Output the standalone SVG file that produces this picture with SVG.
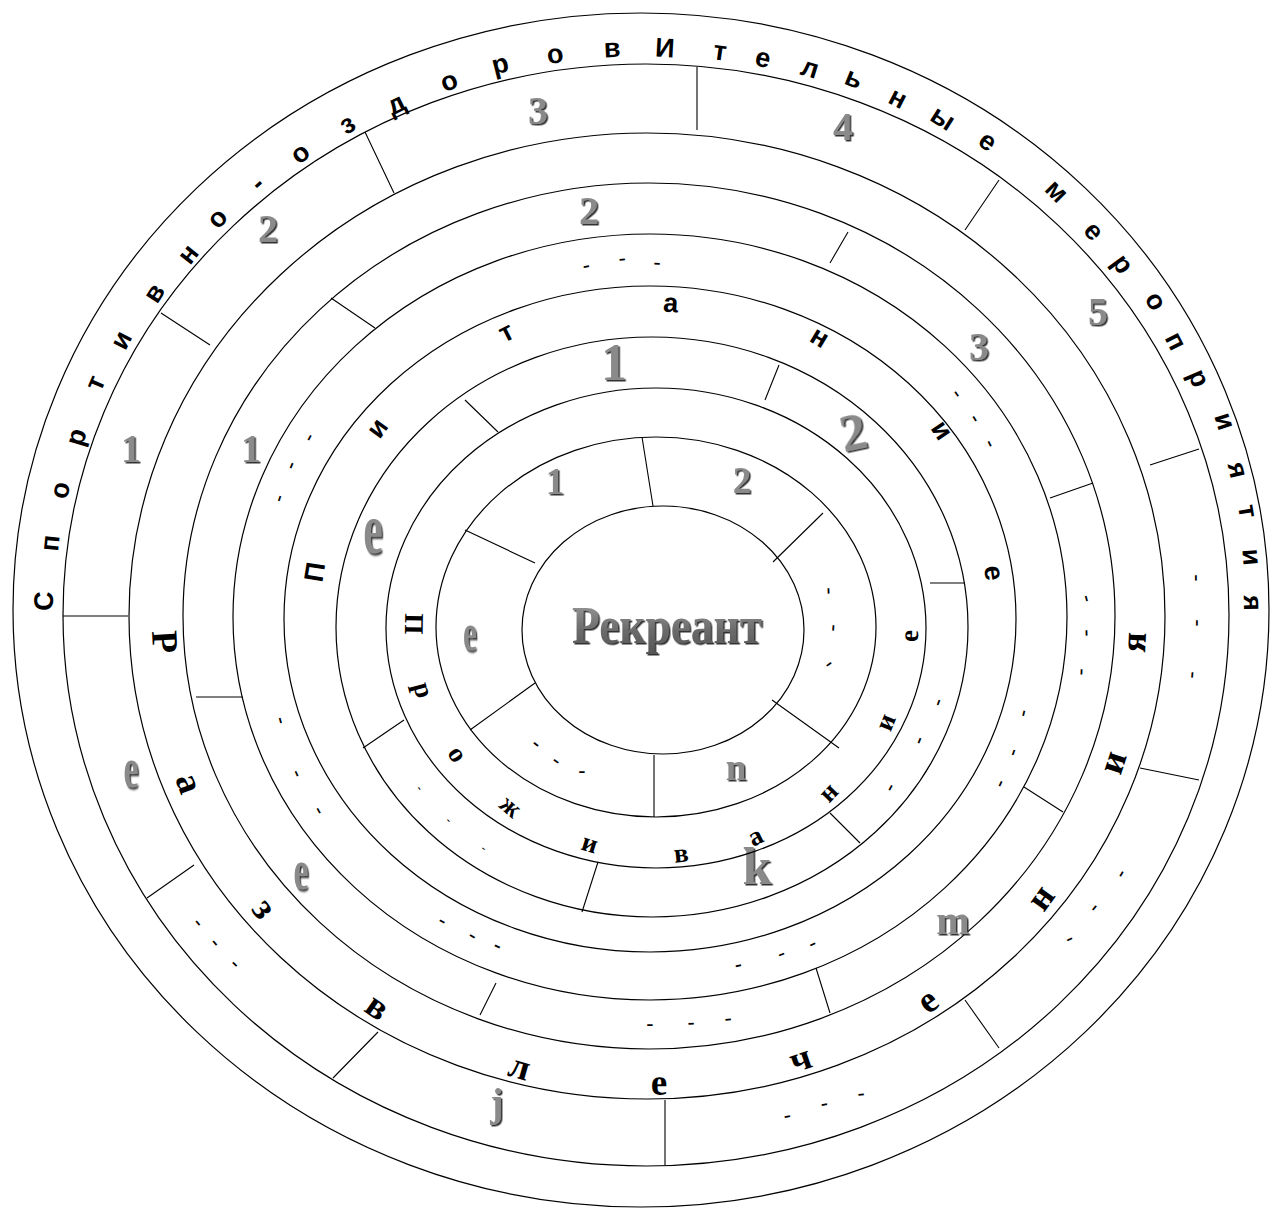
<svg xmlns="http://www.w3.org/2000/svg" width="1270" height="1209" viewBox="0 0 1270 1209">
<defs>
<style>
.ring{fill:none;stroke:#000;stroke-width:1.2}
.sep{stroke:#000;stroke-width:1.1;fill:none}
.ts{font-family:"Liberation Sans",Arial,sans-serif;font-weight:bold;fill:#000;text-anchor:middle;dominant-baseline:central}
.tr{font-family:"Liberation Serif","Times New Roman",serif;font-weight:bold;fill:#000;text-anchor:middle;dominant-baseline:central}
.a{font-size:27px}
.f{font-size:27px}
.c{font-size:37px}
.h{font-size:27px}
.g{font-family:"Liberation Serif","Times New Roman",serif;font-weight:bold;fill:#8a8a8a;text-anchor:middle;dominant-baseline:central;filter:url(#sh)}
.gb{font-size:40px}
.gg{font-size:52px}
.gi{font-size:37px}
.d{font-family:"Liberation Sans",Arial,sans-serif;font-size:22px;fill:#000;text-anchor:middle;dominant-baseline:central}
.k{font-size:12px}
</style>
<filter id="sh" x="-40%" y="-40%" width="180%" height="180%"><feDropShadow dx="1.5" dy="1.5" stdDeviation="0.6" flood-color="#333"/></filter>
<linearGradient id="gr" x1="0" y1="0" x2="0" y2="1"><stop offset="0" stop-color="#a0a0a0"/><stop offset="0.6" stop-color="#6a6a6a"/><stop offset="1" stop-color="#555"/></linearGradient>
</defs>
<rect width="1270" height="1209" fill="#fff"/>

<g id="ring-sport">
<ellipse class="ring" cx="641" cy="610" rx="628" ry="597"/>
<text class="ts a" transform="translate(44 601) rotate(-89)">С</text>
<text class="ts a" transform="translate(50 543) rotate(-84)">п</text>
<text class="ts a" transform="translate(60 490) rotate(-78)">о</text>
<text class="ts a" transform="translate(76 437) rotate(-73)">р</text>
<text class="ts a" transform="translate(95 383) rotate(-67)">т</text>
<text class="ts a" transform="translate(121 340) rotate(-63)">и</text>
<text class="ts a" transform="translate(154 293) rotate(-57)">в</text>
<text class="ts a" transform="translate(188 254) rotate(-52)">н</text>
<text class="ts a" transform="translate(217 218) rotate(-47)">о</text>
<text class="ts a" transform="translate(257 183) rotate(-42)">-</text>
<text class="ts a" transform="translate(300 153) rotate(-37)">о</text>
<text class="ts a" transform="translate(347 124) rotate(-31)">з</text>
<text class="ts a" transform="translate(396 104) rotate(-26)">д</text>
<text class="ts a" transform="translate(449 81) rotate(-20)">о</text>
<text class="ts a" transform="translate(500 64) rotate(-14)">р</text>
<text class="ts a" transform="translate(555 54) rotate(-9)">о</text>
<text class="ts a" transform="translate(612 48) rotate(-3)">в</text>
<text class="ts a" transform="translate(665 48) rotate(3)">И</text>
<text class="ts a" transform="translate(720 51) rotate(8)">т</text>
<text class="ts a" transform="translate(763 58) rotate(13)">е</text>
<text class="ts a" transform="translate(810 68) rotate(17)">л</text>
<text class="ts a" transform="translate(854 78) rotate(22)">ь</text>
<text class="ts a" transform="translate(898 98) rotate(27)">н</text>
<text class="ts a" transform="translate(943 118) rotate(32)">ы</text>
<text class="ts a" transform="translate(988 141) rotate(37)">е</text>
<text class="ts a" transform="translate(1057 191) rotate(45)">м</text>
<text class="ts a" transform="translate(1094 231) rotate(50)">е</text>
<text class="ts a" transform="translate(1123 264) rotate(54)">р</text>
<text class="ts a" transform="translate(1156 301) rotate(59)">о</text>
<text class="ts a" transform="translate(1176 341) rotate(63)">п</text>
<text class="ts a" transform="translate(1199 378) rotate(67)">р</text>
<text class="ts a" transform="translate(1225 421) rotate(72)">и</text>
<text class="ts a" transform="translate(1238 470) rotate(77)">я</text>
<text class="ts a" transform="translate(1248 511) rotate(81)">т</text>
<text class="ts a" transform="translate(1252 557) rotate(85)">и</text>
<text class="ts a" transform="translate(1253 603) rotate(89)">я</text>
</g>

<g id="ring-j">
<ellipse class="ring" cx="646" cy="615" rx="583" ry="551"/>
<path class="sep" d="M697 67L697 130M365 132L394 193M161 313L210 345M63 616L128 616M147 898L194 865M333 1078L378 1032M665 1100L665 1165M965 1000L999 1048M1140 768L1199 780M1150 465L1199 449M999 180L965 230"/>
<text class="g gb" x="131" y="448">1</text>
<text class="g gb" x="268" y="228">2</text>
<text class="g gb" x="538" y="110">3</text>
<text class="g gb" x="843" y="126">4</text>
<text class="g gb" x="1098" y="311">5</text>
<text class="g gb" x="497" y="1102">j</text>
<text class="g gb" transform="translate(131 768) scale(0.85 1.4)">е</text>
<text class="d" transform="translate(1197 578) rotate(90)">-</text>
<text class="d" transform="translate(1198 623) rotate(90)">-</text>
<text class="d" transform="translate(1194 675) rotate(95)">-</text>
<text class="d" transform="translate(1069 938) rotate(-25)">-</text>
<text class="d" transform="translate(1093 907) rotate(-50)">-</text>
<text class="d" transform="translate(1120 873) rotate(-60)">-</text>
<text class="d" transform="translate(787 1115) rotate(-10)">-</text>
<text class="d" transform="translate(824 1103) rotate(-10)">-</text>
<text class="d" transform="translate(861 1093) rotate(-5)">-</text>
<text class="d" transform="translate(199 922) rotate(50)">-</text>
<text class="d" transform="translate(216 942) rotate(50)">-</text>
<text class="d" transform="translate(236 963) rotate(45)">-</text>
</g>

<g id="ring-entertainment">
<ellipse class="ring" cx="647" cy="616" rx="518" ry="483"/>
<text class="tr c" transform="translate(165 642) rotate(87)">Р</text>
<text class="tr c" transform="translate(190 783) rotate(70)">а</text>
<text class="tr c" transform="translate(265 908) rotate(53)">з</text>
<text class="tr c" transform="translate(378 1006) rotate(35)">в</text>
<text class="tr c" transform="translate(520 1066) rotate(16)">л</text>
<text class="tr c" transform="translate(659 1082) rotate(-1)">е</text>
<text class="tr c" transform="translate(800 1058) rotate(-19)">ч</text>
<text class="tr c" transform="translate(927 1000) rotate(-36)">е</text>
<text class="tr c" transform="translate(1040 897) rotate(-54)">н</text>
<text class="tr c" transform="translate(1112 762) rotate(-72)">и</text>
<text class="tr c" transform="translate(1133 642) rotate(-87)">я</text>
</g>

<g id="ring-m">
<ellipse class="ring" cx="649" cy="616" rx="466" ry="433"/>
<path class="sep" d="M331 298L375 328M848 232L830 263M1050 498L1093 483M1024 787L1063 812M816 968L830 1013M496 983L480 1015M196 697L243 697"/>
<text class="g gb" x="251" y="448">1</text>
<text class="g gb" x="589" y="210">2</text>
<text class="g gb" x="979" y="346">3</text>
<text class="g gb" x="953" y="920">m</text>
<text class="g gb" transform="translate(301 870) scale(0.85 1.4)">е</text>
<text class="d" transform="translate(1088 598) rotate(75)">-</text>
<text class="d" transform="translate(1088 633) rotate(88)">-</text>
<text class="d" transform="translate(1083 672) rotate(92)">-</text>
<text class="d" transform="translate(650 1023)">-</text>
<text class="d" transform="translate(691 1022) rotate(-3)">-</text>
<text class="d" transform="translate(728 1018) rotate(-5)">-</text>
</g>

<g id="ring-dashes">
<ellipse class="ring" cx="650" cy="617" rx="417" ry="383"/>
<text class="d" transform="translate(586 265) rotate(-10)">-</text>
<text class="d" transform="translate(622 258) rotate(-4)">-</text>
<text class="d" transform="translate(657 262) rotate(1)">-</text>
<text class="d" transform="translate(308 437) rotate(-62)">-</text>
<text class="d" transform="translate(290 465) rotate(-67)">-</text>
<text class="d" transform="translate(278 498) rotate(-72)">-</text>
<text class="d" transform="translate(958 393) rotate(54)">-</text>
<text class="d" transform="translate(976 418) rotate(58)">-</text>
<text class="d" transform="translate(991 443) rotate(63)">-</text>
<text class="d" transform="translate(1022 713) rotate(-76)">-</text>
<text class="d" transform="translate(1012 752) rotate(-70)">-</text>
<text class="d" transform="translate(999 783) rotate(-65)">-</text>
<text class="d" transform="translate(738 964) rotate(-14)">-</text>
<text class="d" transform="translate(781 953) rotate(-21)">-</text>
<text class="d" transform="translate(812 943) rotate(-26)">-</text>
<text class="d" transform="translate(443 920) rotate(30)">-</text>
<text class="d" transform="translate(473 935) rotate(29)">-</text>
<text class="d" transform="translate(498 945) rotate(25)">-</text>
<text class="d" transform="translate(282 720) rotate(75)">-</text>
<text class="d" transform="translate(298 773) rotate(66)">-</text>
<text class="d" transform="translate(320 810) rotate(60)">-</text>
</g>

<g id="ring-food">
<ellipse class="ring" cx="650" cy="619" rx="366" ry="333"/>
<text class="ts f" transform="translate(315 572) rotate(-81)">П</text>
<text class="ts f" transform="translate(377 428) rotate(-54)">и</text>
<text class="ts f" transform="translate(506 332) rotate(-27)">т</text>
<text class="ts f" transform="translate(671 303) rotate(4)">а</text>
<text class="ts f" transform="translate(820 337) rotate(31)">н</text>
<text class="ts f" transform="translate(942 430) rotate(56)">и</text>
<text class="ts f" transform="translate(994 573) rotate(82)">е</text>
</g>

<g id="ring-k">
<ellipse class="ring" cx="652" cy="627" rx="316" ry="290"/>
<path class="sep" d="M465 400L498 432M779 365L765 400M930 583L965 583M830 813L860 843M598 862L582 912M363 748L404 720"/>
<text class="g gg" x="614" y="362">1</text>
<text class="g gg" transform="translate(853 432) rotate(-12)">2</text>
<text class="g gg" x="757" y="866">k</text>
<text class="g gg" transform="translate(373 528) scale(0.85 1.4)">е</text>
<text class="d" transform="translate(937 702) rotate(-70)">-</text>
<text class="d" transform="translate(918 740) rotate(-68)">-</text>
<text class="d" transform="translate(889 787) rotate(-62)">-</text>
<text class="d k" transform="translate(420 788) rotate(55)">-</text>
<text class="d k" transform="translate(449 820) rotate(45)">-</text>
<text class="d k" transform="translate(484 848) rotate(35)">-</text>
</g>

<g id="ring-accommodation">
<ellipse class="ring" cx="656" cy="628" rx="270" ry="240"/>
<text class="tr h" transform="translate(414 624) rotate(91)">П</text>
<text class="tr h" transform="translate(424 690) rotate(75)">р</text>
<text class="tr h" transform="translate(458 754) rotate(58)">о</text>
<text class="tr h" transform="translate(511 806) rotate(40)">ж</text>
<text class="tr h" transform="translate(590 843) rotate(17)">и</text>
<text class="tr h" transform="translate(681 853) rotate(-6)">в</text>
<text class="tr h" transform="translate(755 836) rotate(-26)">а</text>
<text class="tr h" transform="translate(828 792) rotate(-46)">н</text>
<text class="tr h" transform="translate(885 722) rotate(-68)">и</text>
<text class="tr h" transform="translate(909 636) rotate(-88)">е</text>
</g>

<g id="ring-n">
<ellipse class="ring" cx="656" cy="627" rx="220" ry="190"/>
<path class="sep" d="M642 437L653 506M823 513L773 562M465 530L535 563M470 730L535 683M654 755L654 817M772 700L839 748"/>
<text class="g gi" x="555" y="481">1</text>
<text class="g gi" x="742" y="480">2</text>
<text class="g gi" x="736" y="767">n</text>
<text class="g gi" transform="translate(470 632) scale(0.85 1.4)">е</text>
<text class="d" transform="translate(830 591) rotate(88)">-</text>
<text class="d" transform="translate(835 628) rotate(95)">-</text>
<text class="d" transform="translate(828 663) rotate(-35)">-</text>
<text class="d" transform="translate(537 743) rotate(38)">-</text>
<text class="d" transform="translate(557 760) rotate(35)">-</text>
<text class="d" transform="translate(582 770)">-</text>
</g>

<g id="center">
<ellipse class="ring" cx="663" cy="630" rx="141" ry="124"/>
<text x="667" y="643" text-anchor="middle" font-family="'Liberation Serif','Times New Roman',serif" font-weight="bold" font-size="52" textLength="190" lengthAdjust="spacingAndGlyphs" fill="url(#gr)" filter="url(#sh)">Рекреант</text>
</g>
</svg>
